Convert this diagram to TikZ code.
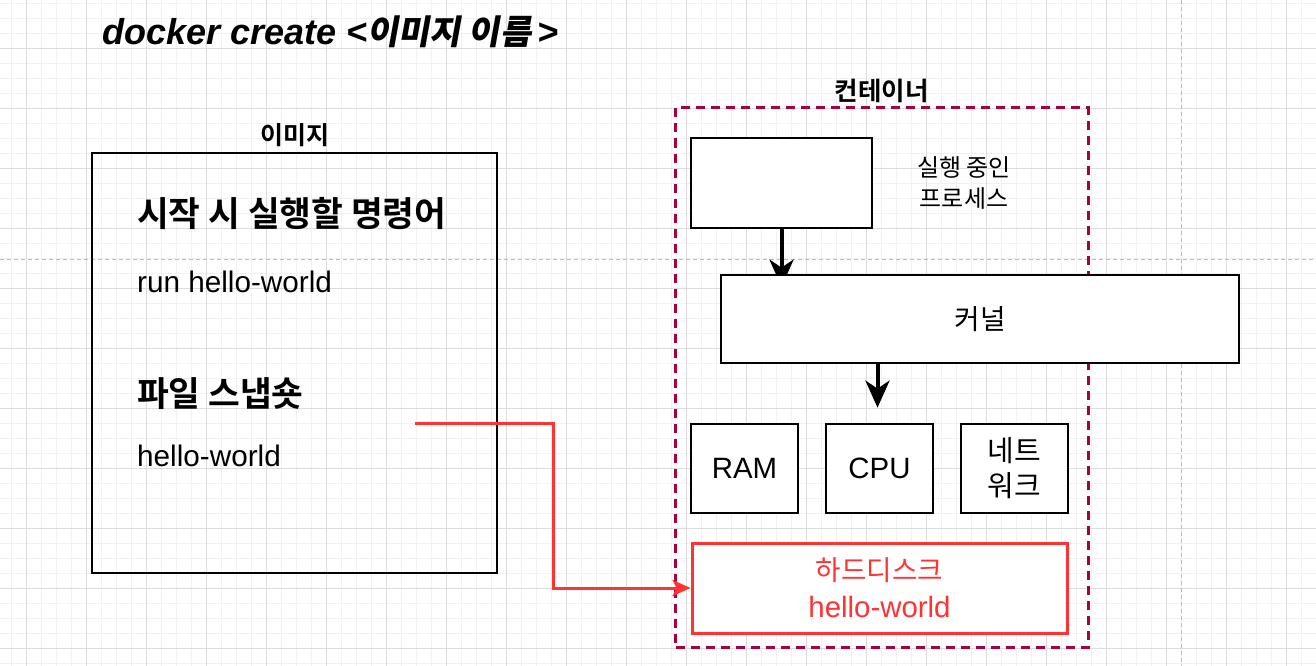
\documentclass[tikz,border=0pt]{standalone}
\usepackage{fontspec}
\setmainfont{Liberation Sans}
\newfontfamily\kr[BoldFont={Noto Sans CJK KR Bold}]{Noto Sans CJK KR}
\newfontfamily\krti[FakeSlant=0.18]{Noto Sans CJK KR Bold}
\usetikzlibrary{arrows.meta,positioning}

\definecolor{gridmajor}{HTML}{DCDCDC}
\definecolor{gridminor}{HTML}{F1F1F1}
\definecolor{guide}{HTML}{BDBDBD}
\definecolor{ctrline}{HTML}{A50040}
\definecolor{hotred}{HTML}{FF3333}

\newcommand\fsz[2]{\fontsize{#1}{#2}\selectfont}

\pgfdeclarelayer{grid}
\pgfdeclarelayer{edges}
\pgfsetlayers{grid,edges,main}

\tikzset{
  box/.style={draw=black, line width=1.3pt, fill=white, inner sep=0pt, align=center},
  lbl/.style={inner sep=0pt, anchor=base west},
  bigarrow/.style={line width=4pt, -{Stealth[length=27pt,width=24pt,inset=8pt]}},
  redarrow/.style={draw=hotred, line width=3pt, -{Stealth[length=18pt,width=16pt,inset=4pt]}}
}

\begin{document}
\begin{tikzpicture}[x=1pt,y=-1pt]
\useasboundingbox (0,0) rectangle (1316,666);

% grid paper
\begin{pgfonlayer}{grid}
\fill[white] (0,0) rectangle (1316,666);
\foreach \x in {11.7,26.7,...,1316} {\draw[gridminor,line width=0.9pt] (\x,0) -- (\x,666);}
\foreach \y in {3.7,18.7,...,666} {\draw[gridminor,line width=0.9pt] (0,\y) -- (1316,\y);}
\foreach \x in {26.7,86.7,...,1316} {\draw[gridmajor,line width=0.9pt] (\x,0) -- (\x,666);}
\foreach \y in {48.7,108.7,...,666} {\draw[gridmajor,line width=0.9pt] (0,\y) -- (1316,\y);}
\draw[guide,line width=0.9pt,dash pattern=on 4pt off 3pt] (0,259) -- (1316,259);
\draw[guide,line width=0.9pt,dash pattern=on 4pt off 3pt] (1181,0) -- (1181,666);
\end{pgfonlayer}

\node[lbl] (title) at (102,45) {\fsz{36}{42}\bfseries\itshape docker create <{\krti\fsz{34}{40}이미지 이름}\kern6pt>};

% image
\node[draw=black, line width=1.3pt, minimum width=405, minimum height=420] (img) at (294.5,363) {};
\node[inner sep=0pt, above=5pt of img, font=\kr\bfseries\fsz{25}{30}] {이미지};
\node[lbl] (cmdhead) at (137,226) {\kr\bfseries\fsz{34.5}{40}시작 시 실행할 명령어};
\node[lbl] (cmd) at (137,292.7) {\fsz{29.7}{35}run hello-world};
\node[lbl] (snaphead) at (137,406) {\kr\bfseries\fsz{34.5}{40}파일 스냅숏};
\node[lbl] (snap) at (137,466) {\fsz{29.7}{35}hello-world};
\coordinate (snapout) at (415,423);

% container
\node[draw=ctrline, line width=3pt, dash pattern=on 9pt off 6pt, minimum width=412.5, minimum height=539.5] (ctr) at (881.75,377.75) {};
\node[inner sep=0pt, above=3pt of ctr, font=\kr\bfseries\fsz{25.5}{30}] {컨테이너};

\node[box, minimum width=181, minimum height=90] (proc) at (781.5,183) {};
\node[align=center, font=\kr\fsz{24}{31}] (proclbl) at (964,183) {실행 중인\\프로세스};
\node[box, minimum width=518, minimum height=88, font=\kr\fsz{27.8}{32}] (kernel) at (980,319) {커널};

\node[box, minimum width=107, minimum height=89, font=\fsz{29.4}{35}] (ram) at (744.5,468.5) {RAM};
\node[box, minimum width=107, minimum height=89, font=\fsz{29.4}{35}] (cpu) at (879.5,468.5) {CPU};
\node[box, minimum width=107, minimum height=89, font=\kr\fsz{29}{35}] (net) at (1014.5,468.5) {네트\\워크};
\node[box, draw=hotred, line width=3pt, text=hotred, minimum width=375, minimum height=90, font=\fsz{29.4}{37}] (disk) at (879.5,588) {{\kr\fsz{27.7}{37}하드디스크}\\hello-world};

% connectors
\begin{pgfonlayer}{edges}
\draw[bigarrow] (proc.south) -- ++(0,58);
\end{pgfonlayer}
\draw[bigarrow] (kernel.south -| 877.5,0) -- ++(0,44);
\draw[redarrow] (snapout) -- ++(138,0) |- (disk.west);
\end{tikzpicture}
\end{document}
